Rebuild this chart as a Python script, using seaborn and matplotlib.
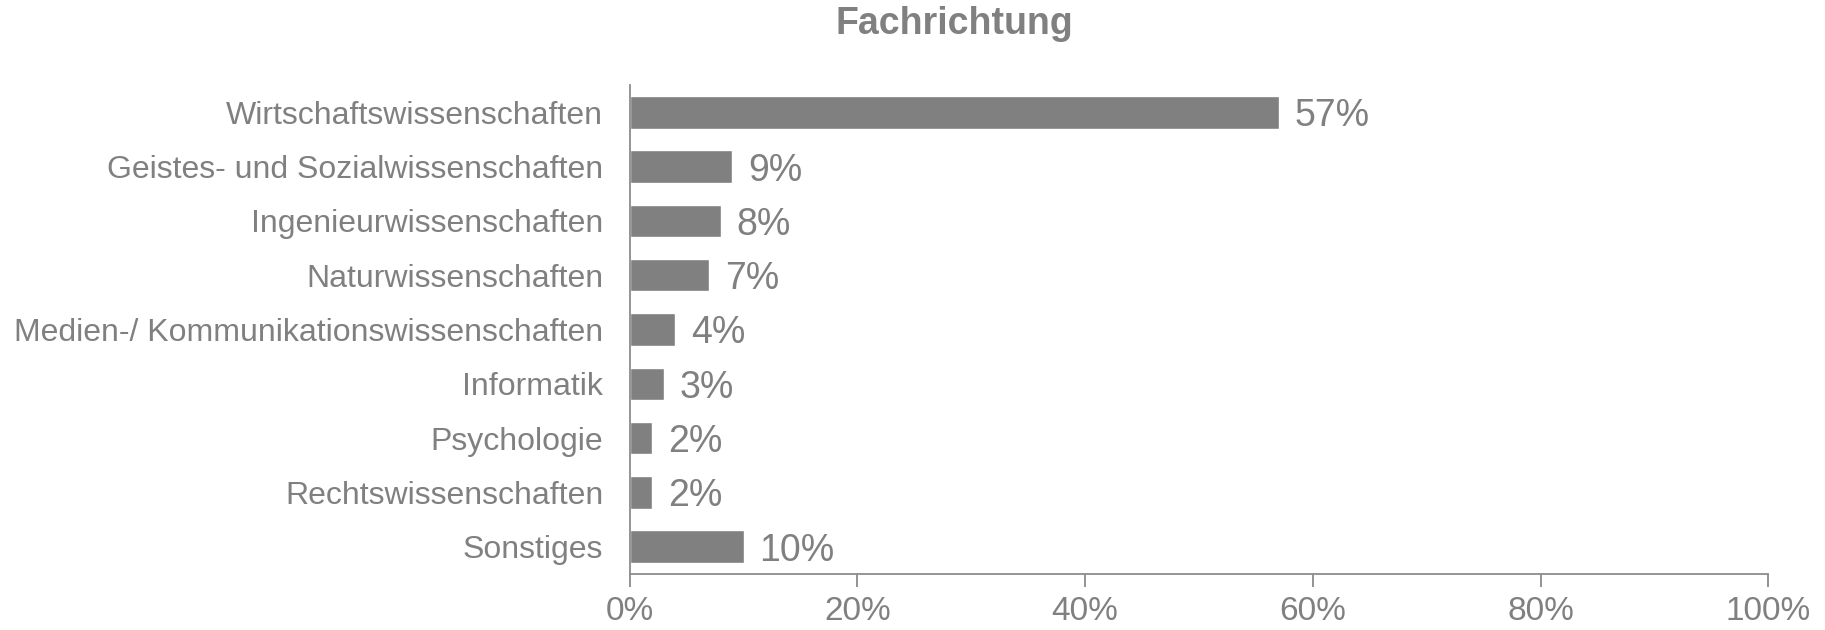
import matplotlib
matplotlib.use('Agg')
import matplotlib.pyplot as plt
import seaborn as sns
import pandas as pd
from matplotlib.ticker import PercentFormatter

categories = ['Wirtschaftswissenschaften', 'Geistes- und Sozialwissenschaften',
              'Ingenieurwissenschaften', 'Naturwissenschaften',
              'Medien-/ Kommunikationswissenschaften', 'Informatik',
              'Psychologie', 'Rechtswissenschaften', 'Sonstiges']
shares = [57, 9, 8, 7, 4, 3, 2, 2, 10]

df = pd.DataFrame({'Fachrichtung': categories, 'Anteil': shares})

sns.set_style('white')
plt.rcParams['font.family'] = ['Liberation Sans', 'DejaVu Sans']
grey = '#808080'

fig = plt.figure(figsize=(18.25, 6.3), dpi=100)
ax = fig.add_axes([0.345, 0.089, 0.624, 0.776])
sns.barplot(data=df, x='Anteil', y='Fachrichtung', color=grey, saturation=1,
            width=0.6, ax=ax)

# percentage labels next to the bars
for i, v in enumerate(shares):
    ax.text(v + 1.4, i, f'{v}%', va='center_baseline', ha='left', fontsize=27, color=grey)

ax.set_xlim(0, 100)
ax.set_ylim(8.5, -0.5)
ax.xaxis.set_major_formatter(PercentFormatter(decimals=0))
ax.set_xticks([0, 20, 40, 60, 80, 100])
ax.set_xlabel('')
ax.set_ylabel('')
ax.tick_params(axis='x', colors=grey, labelsize=24, length=9, width=1.2, direction='out',
               bottom=True, pad=7)
ax.tick_params(axis='y', colors=grey, labelsize=23, length=0, pad=19)
for s in ['top', 'right']:
    ax.spines[s].set_visible(False)
for s in ['left', 'bottom']:
    ax.spines[s].set_color('#8c8c8c')
    ax.spines[s].set_linewidth(1.3)

fig.suptitle('Fachrichtung', fontsize=27, fontweight='bold', color=grey, x=0.523, y=0.99)

fig.savefig('out.png', dpi=100)
